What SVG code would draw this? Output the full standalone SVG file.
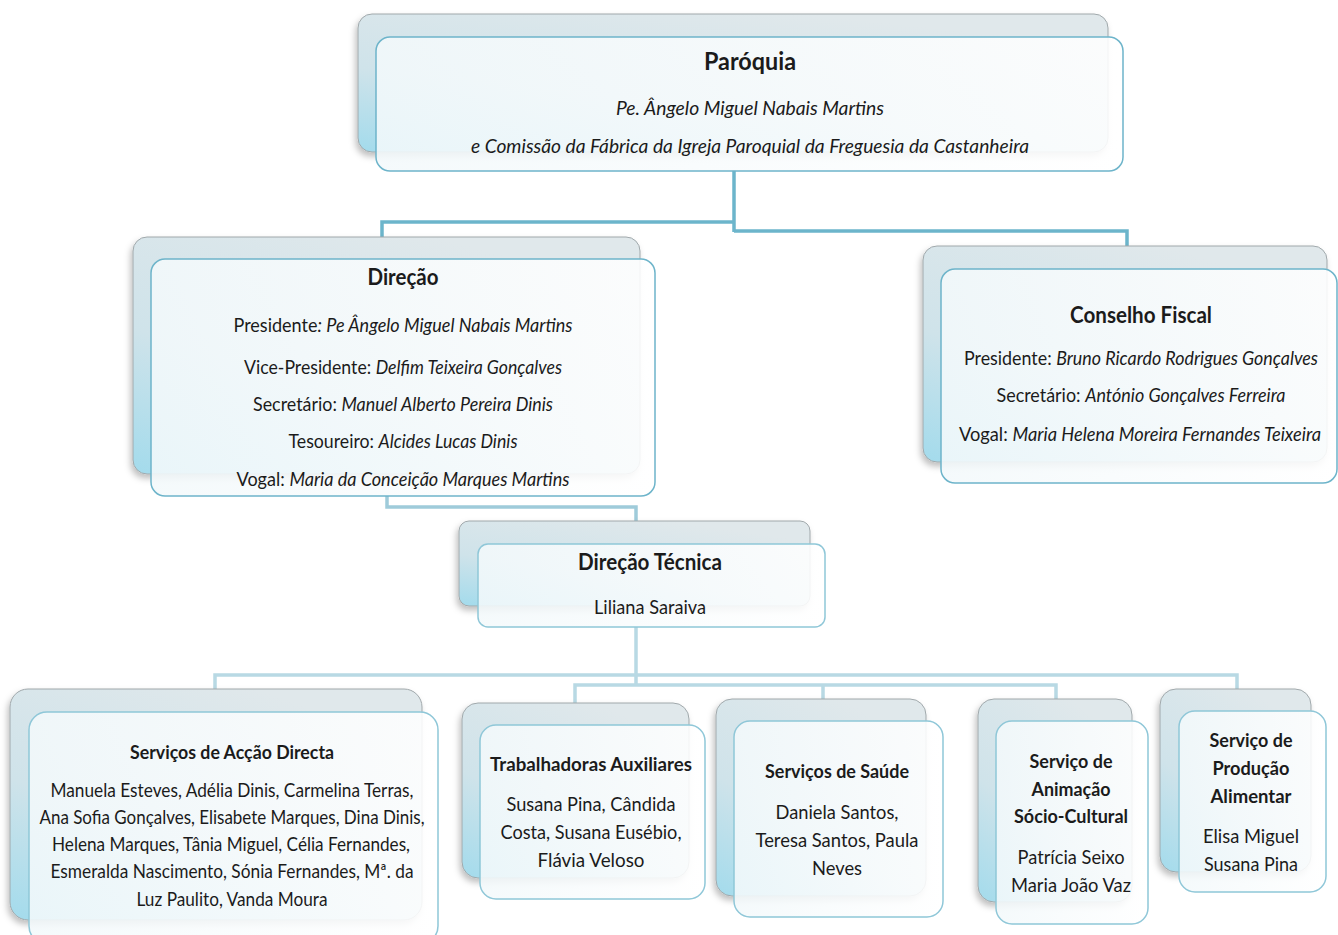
<svg xmlns="http://www.w3.org/2000/svg" width="1338" height="935" viewBox="0 0 1338 935">
<defs>
<linearGradient id="bg" x1="0.6" y1="0" x2="0" y2="1">
<stop offset="0" stop-color="#e0e8eb"/>
<stop offset="0.55" stop-color="#cfe3ea"/>
<stop offset="1" stop-color="#a3dbec"/>
</linearGradient>
<linearGradient id="fg" x1="0" y1="0" x2="1" y2="0">
<stop offset="0" stop-color="#f3f9fb"/>
<stop offset="1" stop-color="#ffffff"/>
</linearGradient>
<filter id="sh" x="-10%" y="-10%" width="120%" height="125%">
<feDropShadow dx="-2" dy="4" stdDeviation="3" flood-color="#000" flood-opacity="0.25"/>
</filter>
</defs>
<style>
.back{fill:url(#bg);stroke:#a0a8ab;stroke-width:1;filter:url(#sh)}
.front{fill:url(#fg);fill-opacity:0.88;stroke:#8fc7d8;stroke-width:1.5}
.f1{stroke:#6db4ca}
.t{font-family:Lato,"Open Sans",sans-serif;fill:#1b1b1b;text-anchor:middle}
.b{font-weight:bold}
.i{font-style:italic}
.c{fill:none;stroke-width:3.5;stroke-linejoin:miter}
.c1{stroke:#6cb5cb}
.c2{stroke:#9fcbda}
.c3{stroke:#b8d9e4}
</style>
<g id="connectors">
<path class="c c1" d="M734,170 V232 M734,222 H382 V238 M734,231 H1127 V247"/>
<path class="c c2" d="M387,496 V507 H636 V522"/>
<path class="c c3" d="M636,627 V686 M215,690 V675 H1237 V690 M575,704 V685 H1056 V700 M823,685 V700"/>
</g>
<g id="paroquia">
<rect class="back" x="358" y="14" width="750" height="138" rx="14"/>
<rect class="front f1" x="376" y="37" width="747" height="134" rx="14"/>
<text class="t b" x="750" y="70" font-size="24" textLength="92" lengthAdjust="spacingAndGlyphs">Paróquia</text>
<text class="t i" x="750" y="115" font-size="19" textLength="268" lengthAdjust="spacingAndGlyphs">Pe. Ângelo Miguel Nabais Martins</text>
<text class="t i" x="750" y="153" font-size="19" textLength="558" lengthAdjust="spacingAndGlyphs">e Comissão da Fábrica da Igreja Paroquial da Freguesia da Castanheira</text>
</g>
<g id="direcao">
<rect class="back" x="133" y="237" width="507" height="237" rx="14"/>
<rect class="front f1" x="151" y="259" width="504" height="237" rx="14"/>
<text class="t b" x="403" y="285" font-size="22" textLength="71" lengthAdjust="spacingAndGlyphs">Direção</text>
<text class="t" x="403" y="332" font-size="19" textLength="339" lengthAdjust="spacingAndGlyphs">Presidente<tspan class="i">: Pe Ângelo Miguel Nabais  Martins</tspan></text>
<text class="t" x="403" y="374" font-size="19" textLength="318" lengthAdjust="spacingAndGlyphs">Vice-Presidente: <tspan class="i">Delfim Teixeira Gonçalves</tspan></text>
<text class="t" x="403" y="411" font-size="19" textLength="300" lengthAdjust="spacingAndGlyphs">Secretário: <tspan class="i">Manuel Alberto Pereira Dinis</tspan></text>
<text class="t" x="403" y="448" font-size="19" textLength="229" lengthAdjust="spacingAndGlyphs">Tesoureiro: <tspan class="i">Alcides Lucas Dinis</tspan></text>
<text class="t" x="403" y="486" font-size="19" textLength="333" lengthAdjust="spacingAndGlyphs">Vogal: <tspan class="i">Maria da Conceição Marques Martins</tspan></text>
</g>
<g id="conselho-fiscal">
<rect class="back" x="923" y="246" width="404" height="216" rx="14"/>
<rect class="front f1" x="941" y="269" width="396" height="214" rx="14"/>
<text class="t b" x="1141" y="323" font-size="22" textLength="142" lengthAdjust="spacingAndGlyphs">Conselho Fiscal</text>
<text class="t" x="1141" y="365" font-size="19" textLength="354" lengthAdjust="spacingAndGlyphs">Presidente: <tspan class="i">Bruno Ricardo Rodrigues Gonçalves</tspan></text>
<text class="t" x="1141" y="402" font-size="19" textLength="289" lengthAdjust="spacingAndGlyphs">Secretário: <tspan class="i">António Gonçalves Ferreira</tspan></text>
<text class="t" x="1140" y="441" font-size="19" textLength="362" lengthAdjust="spacingAndGlyphs">Vogal: <tspan class="i">Maria Helena Moreira Fernandes Teixeira</tspan></text>
</g>
<g id="direcao-tecnica">
<rect class="back" x="459" y="521" width="351" height="85" rx="10"/>
<rect class="front" x="478" y="544" width="347" height="83" rx="10"/>
<text class="t b" x="650" y="570" font-size="22" textLength="144" lengthAdjust="spacingAndGlyphs">Direção Técnica</text>
<text class="t" x="650" y="614" font-size="19" textLength="112" lengthAdjust="spacingAndGlyphs">Liliana Saraiva</text>
</g>
<g id="servicos-accao-directa">
<rect class="back" x="10" y="689" width="412" height="231" rx="18"/>
<rect class="front" x="29" y="712" width="409" height="232" rx="18"/>
<text class="t b" x="232" y="759" font-size="19" textLength="204" lengthAdjust="spacingAndGlyphs">Serviços de Acção Directa</text>
<text class="t" x="232" y="797" font-size="19" textLength="363" lengthAdjust="spacingAndGlyphs">Manuela Esteves, Adélia Dinis, Carmelina Terras,</text>
<text class="t" x="232" y="824" font-size="19" textLength="385" lengthAdjust="spacingAndGlyphs">Ana Sofia Gonçalves, Elisabete Marques, Dina Dinis,</text>
<text class="t" x="231" y="851" font-size="19" textLength="358" lengthAdjust="spacingAndGlyphs">Helena Marques, Tânia Miguel, Célia Fernandes,</text>
<text class="t" x="232" y="878" font-size="19" textLength="363" lengthAdjust="spacingAndGlyphs">Esmeralda Nascimento, Sónia Fernandes, Mª. da</text>
<text class="t" x="232" y="906" font-size="19" textLength="191" lengthAdjust="spacingAndGlyphs">Luz Paulito, Vanda Moura</text>
</g>
<g id="trabalhadoras-auxiliares">
<rect class="back" x="462" y="703" width="227" height="175" rx="16"/>
<rect class="front" x="480" y="725" width="225" height="174" rx="16"/>
<text class="t b" x="591" y="771" font-size="19" textLength="202" lengthAdjust="spacingAndGlyphs">Trabalhadoras Auxiliares</text>
<text class="t" x="591" y="811" font-size="19" textLength="169" lengthAdjust="spacingAndGlyphs">Susana Pina, Cândida</text>
<text class="t" x="591" y="839" font-size="19" textLength="181" lengthAdjust="spacingAndGlyphs">Costa, Susana Eusébio,</text>
<text class="t" x="591" y="867" font-size="19" textLength="107" lengthAdjust="spacingAndGlyphs">Flávia Veloso</text>
</g>
<g id="servicos-saude">
<rect class="back" x="716" y="699" width="210" height="197" rx="16"/>
<rect class="front" x="734" y="721" width="209" height="196" rx="16"/>
<text class="t b" x="837" y="778" font-size="19" textLength="144" lengthAdjust="spacingAndGlyphs">Serviços de Saúde</text>
<text class="t" x="837" y="819" font-size="19" textLength="123" lengthAdjust="spacingAndGlyphs">Daniela Santos,</text>
<text class="t" x="837" y="847" font-size="19" textLength="163" lengthAdjust="spacingAndGlyphs">Teresa Santos, Paula</text>
<text class="t" x="837" y="875" font-size="19" textLength="50" lengthAdjust="spacingAndGlyphs">Neves</text>
</g>
<g id="animacao-socio-cultural">
<rect class="back" x="978" y="699" width="154" height="203" rx="16"/>
<rect class="front" x="996" y="721" width="152" height="203" rx="16"/>
<text class="t b" x="1071" y="768" font-size="19" textLength="83" lengthAdjust="spacingAndGlyphs">Serviço de</text>
<text class="t b" x="1071" y="796" font-size="19" textLength="79" lengthAdjust="spacingAndGlyphs">Animação</text>
<text class="t b" x="1071" y="823" font-size="19" textLength="114" lengthAdjust="spacingAndGlyphs">Sócio-Cultural</text>
<text class="t" x="1071" y="864" font-size="19" textLength="107" lengthAdjust="spacingAndGlyphs">Patrícia Seixo</text>
<text class="t" x="1071" y="892" font-size="19" textLength="120" lengthAdjust="spacingAndGlyphs">Maria João Vaz</text>
</g>
<g id="producao-alimentar">
<rect class="back" x="1160" y="689" width="151" height="183" rx="16"/>
<rect class="front" x="1179" y="711" width="147" height="181" rx="16"/>
<text class="t b" x="1251" y="747" font-size="19" textLength="83" lengthAdjust="spacingAndGlyphs">Serviço de</text>
<text class="t b" x="1251" y="775" font-size="19" textLength="77" lengthAdjust="spacingAndGlyphs">Produção</text>
<text class="t b" x="1251" y="803" font-size="19" textLength="81" lengthAdjust="spacingAndGlyphs">Alimentar</text>
<text class="t" x="1251" y="843" font-size="19" textLength="96" lengthAdjust="spacingAndGlyphs">Elisa Miguel</text>
<text class="t" x="1251" y="871" font-size="19" textLength="94" lengthAdjust="spacingAndGlyphs">Susana Pina</text>
</g>
</svg>
